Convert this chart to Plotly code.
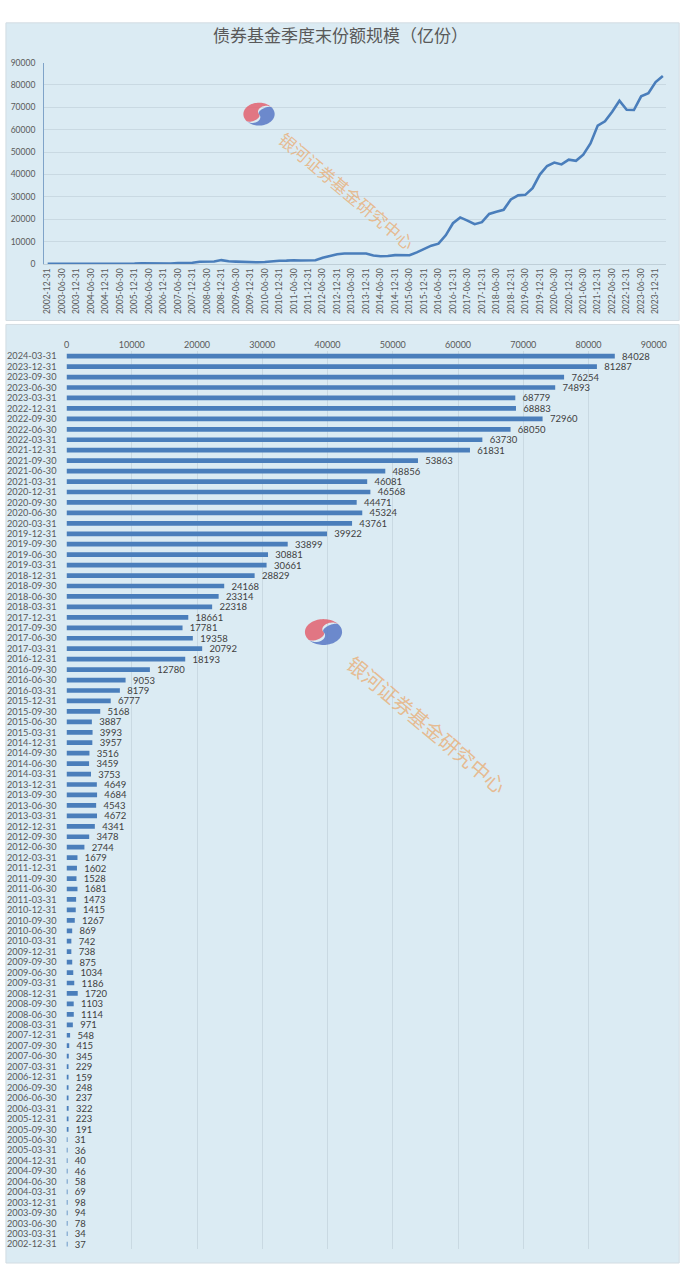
import numpy as np
import plotly.graph_objects as go

W, H = 700, 1270

dates = [
    "2002-12-31",
    "2003-03-31", "2003-06-30", "2003-09-30", "2003-12-31",
    "2004-03-31", "2004-06-30", "2004-09-30", "2004-12-31",
    "2005-03-31", "2005-06-30", "2005-09-30", "2005-12-31",
    "2006-03-31", "2006-06-30", "2006-09-30", "2006-12-31",
    "2007-03-31", "2007-06-30", "2007-09-30", "2007-12-31",
    "2008-03-31", "2008-06-30", "2008-09-30", "2008-12-31",
    "2009-03-31", "2009-06-30", "2009-09-30", "2009-12-31",
    "2010-03-31", "2010-06-30", "2010-09-30", "2010-12-31",
    "2011-03-31", "2011-06-30", "2011-09-30", "2011-12-31",
    "2012-03-31", "2012-06-30", "2012-09-30", "2012-12-31",
    "2013-03-31", "2013-06-30", "2013-09-30", "2013-12-31",
    "2014-03-31", "2014-06-30", "2014-09-30", "2014-12-31",
    "2015-03-31", "2015-06-30", "2015-09-30", "2015-12-31",
    "2016-03-31", "2016-06-30", "2016-09-30", "2016-12-31",
    "2017-03-31", "2017-06-30", "2017-09-30", "2017-12-31",
    "2018-03-31", "2018-06-30", "2018-09-30", "2018-12-31",
    "2019-03-31", "2019-06-30", "2019-09-30", "2019-12-31",
    "2020-03-31", "2020-06-30", "2020-09-30", "2020-12-31",
    "2021-03-31", "2021-06-30", "2021-09-30", "2021-12-31",
    "2022-03-31", "2022-06-30", "2022-09-30", "2022-12-31",
    "2023-03-31", "2023-06-30", "2023-09-30", "2023-12-31",
    "2024-03-31",
]

shares = [
    37,
    34, 78, 94, 98,
    69, 58, 46, 40,
    36, 31, 191, 223,
    322, 237, 248, 159,
    229, 345, 415, 548,
    971, 1114, 1103, 1720,
    1186, 1034, 875, 738,
    742, 869, 1267, 1415,
    1473, 1681, 1528, 1602,
    1679, 2744, 3478, 4341,
    4672, 4543, 4684, 4649,
    3753, 3459, 3516, 3957,
    3993, 3887, 5168, 6777,
    8179, 9053, 12780, 18193,
    20792, 19358, 17781, 18661,
    22318, 23314, 24168, 28829,
    30661, 30881, 33899, 39922,
    43761, 45324, 44471, 46568,
    46081, 48856, 53863, 61831,
    63730, 68050, 72960, 68883,
    68779, 74893, 76254, 81287,
    84028,
]

title_text = "债券基金季度末份额规模（亿份）"
watermark_text = "银河证券基金研究中心"
value_ticks = [0, 10000, 20000, 30000, 40000, 50000, 60000, 70000, 80000, 90000]
value_tick_text = ["0", "10000", "20000", "30000", "40000", "50000", "60000", "70000", "80000", "90000"]


def px(x):
    return x / W


def py(y):
    return 1 - y / H


PANEL = "#DBEBF3"
GRID = "#C9D9E2"
TXT = "#595959"
BLUE = "#4A7EBB"
FONT = "Lato, 'Noto Sans CJK SC', sans-serif"
CJK = "'Noto Sans CJK SC', sans-serif"

fig = go.Figure()

# top line chart
fig.add_trace(go.Scatter(
    x=dates, y=shares, mode="lines",
    line=dict(color=BLUE, width=2.6),
    xaxis="x", yaxis="y", showlegend=False, hoverinfo="x+y",
))

# bottom bar chart
fig.add_trace(go.Bar(
    x=shares, y=dates, orientation="h",
    marker=dict(color=BLUE, line=dict(width=0)),
    width=0.45,
    text=[str(v) for v in shares],
    texttemplate="   %{text}",
    textposition="outside",
    constraintext="none",
    cliponaxis=False,
    textfont=dict(size=9.5, color="#404040", family=FONT),
    xaxis="x2", yaxis="y2", showlegend=False,
))

fig.update_layout(
    width=W, height=H,
    margin=dict(l=0, r=0, t=0, b=0),
    paper_bgcolor="white",
    plot_bgcolor="rgba(0,0,0,0)",
    font=dict(family=FONT, color=TXT),
    xaxis=dict(
        domain=[px(42), px(679)],
        anchor="y",
        type="category",
        categoryorder="array", categoryarray=dates,
        range=[-0.5, len(dates) - 0.5],
        tickmode="array", tickvals=dates[::2], ticktext=dates[::2],
        tickangle=-90,
        tickfont=dict(size=8.5, color=TXT),
        showgrid=False,
        showline=True, linecolor="#BFCFD8", linewidth=1,
        ticks="",
    ),
    yaxis=dict(
        domain=[py(261), py(58)],
        anchor="x",
        range=[0, 90000],
        tickmode="array", tickvals=value_ticks, ticktext=value_tick_text,
        tickfont=dict(size=8.5, color=TXT),
        showgrid=True, gridcolor=GRID, gridwidth=1,
        zeroline=False,
        showline=True, linecolor="#7FA3C8", linewidth=1,
        ticks="",
        ticklabelstandoff=6,
    ),
    xaxis2=dict(
        domain=[px(65), px(666)],
        anchor="y2",
        side="top",
        range=[0, 90000],
        tickmode="array", tickvals=value_ticks, ticktext=value_tick_text,
        tickfont=dict(size=9, color=TXT),
        showgrid=True, gridcolor=GRID, gridwidth=1,
        zeroline=False,
        showline=False,
        ticks="",
    ),
    yaxis2=dict(
        domain=[py(1254.3), py(348.7)],
        anchor="x2",
        type="category",
        categoryorder="array", categoryarray=dates,
        range=[-0.5, len(dates) - 0.5],
        tickmode="array", tickvals=dates, ticktext=dates,
        tickfont=dict(size=9.2, color=TXT),
        showgrid=False,
        showline=False,
        ticks="",
        ticklabelstandoff=9,
    ),
)

shapes = [
    dict(type="rect", xref="paper", yref="paper", layer="below",
         x0=px(3), x1=px(692), y0=py(318), y1=py(18),
         fillcolor=PANEL, line=dict(color="#D3DCE2", width=1)),
    dict(type="rect", xref="paper", yref="paper", layer="below",
         x0=px(3), x1=px(692), y0=py(1268), y1=py(322),
         fillcolor=PANEL, line=dict(color="#D3DCE2", width=1)),
]


def logo_paths(cx, cy, rx, ry, rot_deg):
    """Two-colour emblem approximated by polygons (pixel coords)."""
    t = np.radians(rot_deg)

    def tr(u, v):
        xr = u * np.cos(t) - v * np.sin(t)
        yr = u * np.sin(t) + v * np.cos(t)
        return cx + xr * rx, cy + yr * ry

    def path(pts):
        s = ""
        for i, (u, v) in enumerate(pts):
            x, y = tr(u, v)
            s += ("M" if i == 0 else "L") + f"{px(x):.5f},{py(y):.5f} "
        return s + "Z"

    n = 40
    big = [(np.cos(a), -np.sin(a)) for a in np.linspace(np.pi, 0, n)]
    s1 = [(0.5 + 0.5 * np.cos(a), -0.42 * np.sin(a)) for a in np.linspace(0, np.pi, n)]
    s2 = [(-0.5 + 0.5 * np.cos(a), 0.30 * np.sin(a)) for a in np.linspace(0, np.pi, n)]
    red = big + s1 + s2
    bigb = [(np.cos(a), np.sin(a)) for a in np.linspace(np.pi, 0, n)]
    s1b = [(0.5 + 0.5 * np.cos(a), -0.25 * np.sin(a)) for a in np.linspace(0, np.pi, n)]
    s2b = [(-0.5 + 0.5 * np.cos(a), 0.48 * np.sin(a)) for a in np.linspace(0, np.pi, n)]
    blue = bigb + s1b + s2b
    return path(red), path(blue)


for (cx, cy, rx, ry, rot) in [(262, 110, 16, 11.5, -35), (328, 632, 19, 13, -35)]:
    r_path, b_path = logo_paths(cx, cy, rx, ry, rot)
    shapes.append(dict(type="path", xref="paper", yref="paper", path=r_path,
                       fillcolor="rgba(226,98,110,0.85)", line=dict(width=0), layer="above"))
    shapes.append(dict(type="path", xref="paper", yref="paper", path=b_path,
                       fillcolor="rgba(88,120,196,0.85)", line=dict(width=0), layer="above"))

fig.update_layout(shapes=shapes)

annotations = [
    dict(text=title_text, xref="paper", yref="paper", x=px(345), y=py(30),
         showarrow=False, xanchor="center", yanchor="middle",
         font=dict(size=17, color="#595959", family=CJK)),
    dict(text=watermark_text, xref="paper", yref="paper", x=px(352), y=py(187),
         showarrow=False, textangle=40, xanchor="center", yanchor="middle",
         font=dict(size=17, color="rgba(236,160,90,0.65)", family=CJK)),
    dict(text=watermark_text, xref="paper", yref="paper", x=px(434), y=py(725),
         showarrow=False, textangle=40, xanchor="center", yanchor="middle",
         font=dict(size=20, color="rgba(236,160,90,0.65)", family=CJK)),
]
fig.update_layout(annotations=annotations)

fig.write_html(
    "out.html",
    config={"displayModeBar": False},
    post_script="document.body.style.margin='0';document.body.style.overflow='hidden';",
)
